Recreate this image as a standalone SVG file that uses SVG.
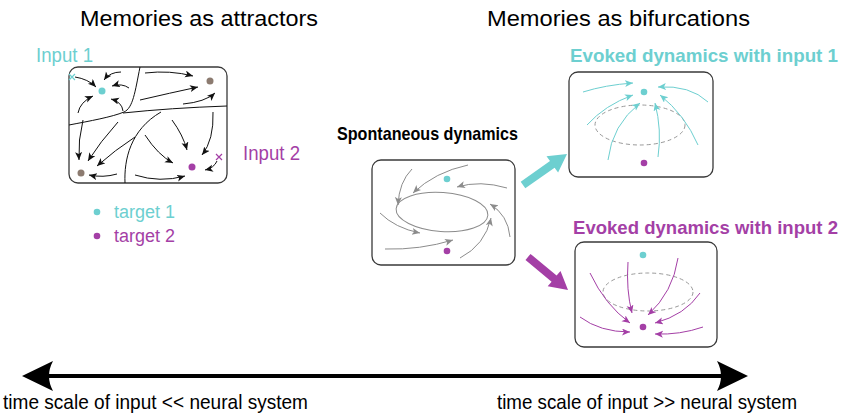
<svg xmlns="http://www.w3.org/2000/svg" width="845" height="414" viewBox="0 0 845 414">
<style>
text{font-family:"Liberation Sans",Arial,sans-serif}
.t{font-size:22px;fill:#000}
.b{font-weight:bold;font-size:19px}
.box{fill:#fff;stroke:#3a3a3a;stroke-width:1.3}
.k{fill:none;stroke:#111;stroke-width:1;marker-end:url(#mk)}
.sep{fill:none;stroke:#111;stroke-width:1}
.g{fill:none;stroke:#8c8c8c;stroke-width:1;marker-end:url(#mg)}
.c{fill:none;stroke:#6dcfd0;stroke-width:1;marker-end:url(#mc)}
.p{fill:none;stroke:#a43fa6;stroke-width:1;marker-end:url(#mp)}
.dash{fill:none;stroke:#999;stroke-width:1;stroke-dasharray:4 3}
.cy{fill:#6dcfd0}.pu{fill:#a43fa6}.br{fill:#8c7b70}
</style>
<defs>
<marker id="mk" markerUnits="userSpaceOnUse" markerWidth="10" markerHeight="8" refX="8" refY="3.5" orient="auto"><path d="M0,0 L8,3.5 L0,7 L2,3.5Z" fill="#111"/></marker>
<marker id="mg" markerUnits="userSpaceOnUse" markerWidth="10" markerHeight="8" refX="8" refY="3.5" orient="auto"><path d="M0,0 L8,3.5 L0,7 L2,3.5Z" fill="#8c8c8c"/></marker>
<marker id="mc" markerUnits="userSpaceOnUse" markerWidth="10" markerHeight="8" refX="8" refY="3.5" orient="auto"><path d="M0,0 L8,3.5 L0,7 L2,3.5Z" fill="#6dcfd0"/></marker>
<marker id="mp" markerUnits="userSpaceOnUse" markerWidth="10" markerHeight="8" refX="8" refY="3.5" orient="auto"><path d="M0,0 L8,3.5 L0,7 L2,3.5Z" fill="#a43fa6"/></marker>
</defs>
<rect width="845" height="414" fill="#fff"/>

<text class="t" x="80" y="26" textLength="238" lengthAdjust="spacingAndGlyphs">Memories as attractors</text>
<text class="t" x="487" y="26" textLength="263" lengthAdjust="spacingAndGlyphs">Memories as bifurcations</text>

<g id="attractors">
<rect class="box" x="69" y="67" width="158" height="116" rx="9"/>
<path class="sep" d="M140,67 C135,92 133,108 124,112 C112,117 90,121 69,125"/>
<path class="sep" d="M123,113 Q170,108 227,106"/>
<path class="sep" d="M125,183 C124,160 130,130 161,112"/>
<path class="k" d="M75,77 Q88,79 96,87"/>
<path class="k" d="M121,72 Q110,72 104,80"/>
<path class="k" d="M129,88 Q122,83 112,86"/>
<path class="k" d="M123,111 Q122,102 111,99"/>
<path class="k" d="M78,113 Q80,102 93,96"/>
<path class="k" d="M145,73 Q170,70 193,76"/>
<path class="k" d="M140,100 Q170,93 198,87"/>
<path class="k" d="M183,104 Q205,102 215,93"/>
<path class="k" d="M83,120 Q78,140 79,160"/>
<path class="k" d="M118,122 Q100,142 88,161"/>
<path class="k" d="M135,137 Q115,150 97,166"/>
<path class="k" d="M117,174 Q103,178 89,175"/>
<path class="k" d="M145,135 Q158,155 173,163"/>
<path class="k" d="M172,120 Q183,135 187,150"/>
<path class="k" d="M213,112 Q214,140 202,155"/>
<path class="k" d="M135,175 Q160,183 185,176"/>
<path class="k" d="M217,161 Q214,168 205,170"/>
<circle class="cy" cx="102" cy="91" r="3.5"/>
<circle class="br" cx="210" cy="81" r="3.5"/>
<circle class="br" cx="81" cy="173" r="3.5"/>
<circle class="pu" cx="192" cy="167" r="3.5"/>
<path d="M69,74 L75,80 M75,74 L69,80" stroke="#6dcfd0" stroke-width="1.2"/>
<path d="M216,154 L222,160 M222,154 L216,160" stroke="#a43fa6" stroke-width="1.2"/>
</g>

<g id="input1-label"><text x="36" y="62" font-size="20" fill="#6dcfd0" textLength="57" lengthAdjust="spacingAndGlyphs">Input 1</text></g>
<g id="input2-label"><text x="243" y="160" font-size="20" fill="#a43fa6" textLength="57" lengthAdjust="spacingAndGlyphs">Input 2</text></g>

<g id="legend">
<circle class="cy" cx="97" cy="212" r="3.3"/>
<text x="114" y="218" font-size="18" fill="#6dcfd0" textLength="61" lengthAdjust="spacingAndGlyphs">target 1</text>
<circle class="pu" cx="97" cy="236" r="3.3"/>
<text x="114" y="242" font-size="18" fill="#a43fa6" textLength="61" lengthAdjust="spacingAndGlyphs">target 2</text>
</g>

<g id="spontaneous">
<text class="b" x="337" y="140" fill="#000" textLength="181" lengthAdjust="spacingAndGlyphs">Spontaneous dynamics</text>
<rect class="box" x="372" y="160" width="143" height="105" rx="9"/>
<ellipse cx="442" cy="212" rx="46" ry="19.5" transform="rotate(4 442 212)" fill="none" stroke="#8c8c8c" stroke-width="1"/>
<path class="g" d="M412,169 Q399,182 398,205"/>
<path class="g" d="M468,165 Q435,172 413,193"/>
<path class="g" d="M507,188 Q480,180 457,187"/>
<path class="g" d="M510,237 Q508,215 490,204"/>
<path class="g" d="M380,213 Q395,228 420,233"/>
<path class="g" d="M385,249 Q420,250 453,240"/>
<path class="g" d="M460,258 Q485,245 491,218"/>
<circle class="cy" cx="447" cy="179" r="3.3"/>
<circle class="pu" cx="447" cy="251" r="3.3"/>
</g>

<g id="evoked1">
<text class="b" x="570" y="62" fill="#6dcfd0" textLength="268" lengthAdjust="spacingAndGlyphs">Evoked dynamics with input 1</text>
<rect class="box" x="569" y="72" width="144" height="105" rx="9"/>
<ellipse class="dash" cx="640" cy="125" rx="45" ry="20"/>
<path class="c" d="M583,92 Q605,85 633,83"/>
<path class="c" d="M708,102 Q690,85 658,87"/>
<path class="c" d="M587,125 Q605,105 633,95"/>
<path class="c" d="M608,160 Q612,125 640,103"/>
<path class="c" d="M658,157 Q662,130 655,103"/>
<path class="c" d="M698,145 Q685,115 660,95"/>
<circle class="cy" cx="644" cy="92" r="3.3"/>
<circle class="pu" cx="644" cy="163" r="3.3"/>
</g>

<g id="evoked2">
<text class="b" x="573" y="234" fill="#a43fa6" textLength="265" lengthAdjust="spacingAndGlyphs">Evoked dynamics with input 2</text>
<rect class="box" x="575" y="242" width="142" height="105" rx="9"/>
<ellipse class="dash" cx="648" cy="292" rx="45" ry="19"/>
<path class="p" d="M590,273 Q605,305 630,323"/>
<path class="p" d="M628,262 Q626,290 632,313"/>
<path class="p" d="M678,258 Q673,292 648,315"/>
<path class="p" d="M700,293 Q685,315 655,323"/>
<path class="p" d="M580,317 Q600,332 630,332"/>
<path class="p" d="M703,327 Q680,335 655,334"/>
<circle class="cy" cx="643" cy="255" r="3.3"/>
<circle class="pu" cx="643" cy="327" r="3.3"/>
</g>

<g id="connectors">
<polygon fill="#6dcfd0" points="525.3,188.3 554.6,167.7 558.1,172.6 567,154 546.5,156.2 550,161.1 520.7,181.7"/>
<polygon fill="#a43fa6" points="525.5,260.1 551.6,281.7 547.7,286.3 568,290 560.5,270.9 556.6,275.5 530.5,253.9"/>
<line x1="40" y1="376" x2="730" y2="376" stroke="#000" stroke-width="4"/>
<path d="M22,376 L53,361 Q45,376 53,391 Z" fill="#000"/>
<path d="M748,376 L717,361 Q725,376 717,391 Z" fill="#000"/>
</g>

<text x="3" y="409" font-size="21" fill="#000" textLength="305" lengthAdjust="spacingAndGlyphs">time scale of input &lt;&lt; neural system</text>
<text x="497" y="409" font-size="21" fill="#000" textLength="300" lengthAdjust="spacingAndGlyphs">time scale of input &gt;&gt; neural system</text>
</svg>
